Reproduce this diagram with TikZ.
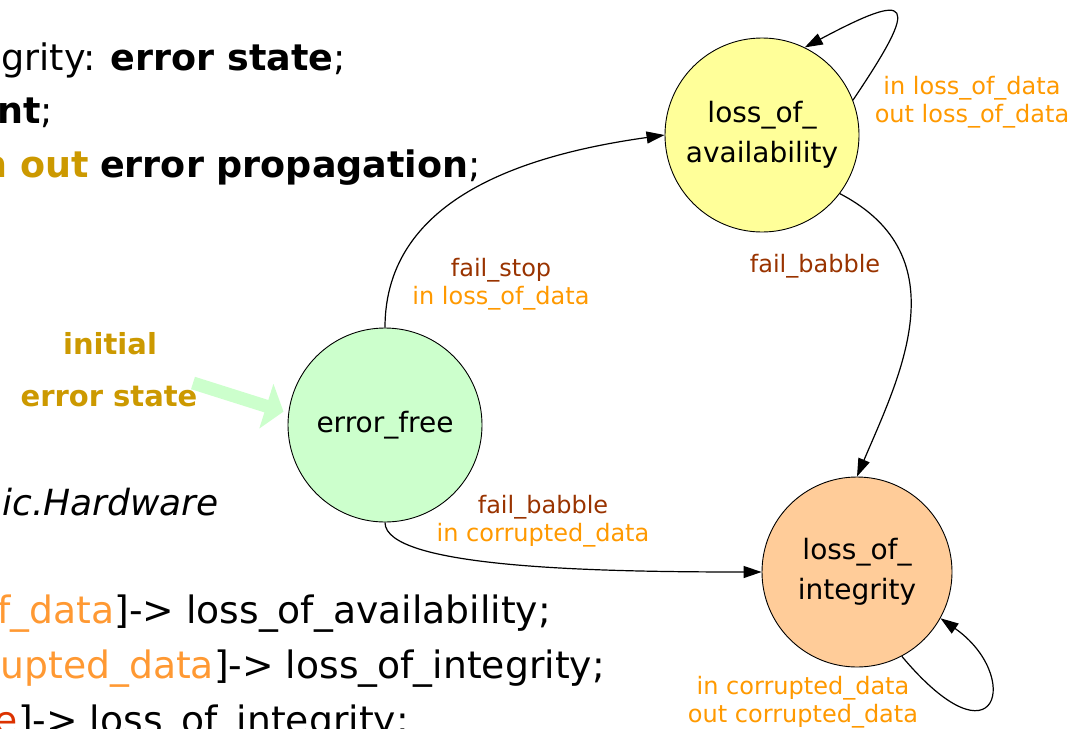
\documentclass[tikz,border=0pt]{standalone}
\usepackage{fontspec}
\setmainfont{DejaVu Sans}
\usetikzlibrary{arrows.meta}

\definecolor{statusgold}{RGB}{204,153,0}
\definecolor{floworange}{RGB}{255,153,0}
\definecolor{eventbrown}{RGB}{153,51,0}
\definecolor{codeorange}{RGB}{255,153,51}
\definecolor{codered}{RGB}{220,50,0}
\definecolor{freegreen}{RGB}{204,255,204}
\definecolor{availyellow}{RGB}{255,255,153}
\definecolor{integorange}{RGB}{255,204,153}

\def\statesize{194pt}
\def\loopreach{122}

\begin{document}
\begin{tikzpicture}[x=1pt,y=1pt,>={Triangle[length=18pt,width=12pt]}]
\tikzstyle{state}=[circle,draw=black,line width=0.9pt,minimum size=\statesize,inner sep=0pt,align=center,font=\fontsize{28}{40}\selectfont]
\tikzstyle{trans}=[->,draw=black,line width=1.2pt]
\tikzstyle{initarrow}=[draw=freegreen,line width=13pt,-{Triangle[length=18pt,width=46pt]},shorten >=5pt]
\tikzstyle{event}=[align=center,inner sep=0pt,font=\fontsize{24}{28}\selectfont]
\tikzstyle{initlabel}=[inner sep=0pt,text=statusgold,font=\bfseries\fontsize{29}{35}\selectfont]
\tikzstyle{decl}=[anchor=base east,inner sep=0pt,font=\fontsize{36.5}{42}\selectfont]
\tikzstyle{code}=[anchor=base east,inner sep=0pt,font=\fontsize{37.7}{55}\selectfont]

\useasboundingbox (0,0) rectangle (1083,-728);
\clip (0,0) rectangle (1083,-728);

% The error model text behind the diagram (cut off at the left)
\node[decl] (declA) at (346,-70) {grity: \textbf{error state};};
\node[decl] (declB) at (53,-123) {\textbf{nt};};
\node[decl] (declC) at (481,-177) {\textbf{\color{statusgold}n out} \textbf{error propagation};};
\node[code,font=\itshape\fontsize{36}{44}\selectfont] (impl) at (219,-515) {ic.Hardware};
\node[code] (codeA) at (551,-623) {{\color{codeorange}f\_data}]-> loss\_of\_availability;};
\node[code] (codeB) at (605,-678) {{\color{codeorange}upted\_data}]-> loss\_of\_integrity;};
\node[code] (codeC) at (409,-733) {{\color{codered}e}]-> loss\_of\_integrity;};

% Draw the states
\node[state,fill=freegreen] (free) at (385,-425) {error\_free};
\node[state,fill=availyellow] (avail) at (762,-135) {loss\_of\_\\availability};
\node[state,fill=integorange,minimum size=190pt] (integ) at (857,-572) {loss\_of\_\\integrity};

% Initial state marker
\node[initlabel] (initial) at (110,-344) {initial};
\node[initlabel] (initstate) at (109,-397) {error state};
\coordinate (initstart) at (193,-383);
\draw[initarrow] (initstart) -- (free.173);

% Transitions between the states
\draw[trans] (free.north) to[out=90,in=188] (avail.west);
\draw[trans] (avail.-37) .. controls +(121,-63) and +(42,99) .. (integ.north);
\draw[trans] (free.south) .. controls +(0,-45) and +(-170,0) .. (integ.west);

% Self loops
\draw[trans] (avail.21) .. controls +(56:\loopreach) and +(28:\loopreach) .. (avail.64);
\draw[trans] (integ.-62) .. controls +(-50:150) and +(-35:100) .. (integ.-29);

% Annotate the transitions
\node[event,text=eventbrown] (stoplabel) at (501,-284) {fail\_stop\\{\color{floworange}in loss\_of\_data}};
\node[event,text=eventbrown] (babblelabel) at (815,-266) {fail\_babble};
\node[event,text=eventbrown] (corruptlabel) at (543,-521) {fail\_babble\\{\color{floworange}in corrupted\_data}};
\node[event,text=floworange] (availloop) at (972,-102) {in loss\_of\_data\\out loss\_of\_data};
\node[event,text=floworange] (integloop) at (803,-702) {in corrupted\_data\\out corrupted\_data};
\end{tikzpicture}
\end{document}
